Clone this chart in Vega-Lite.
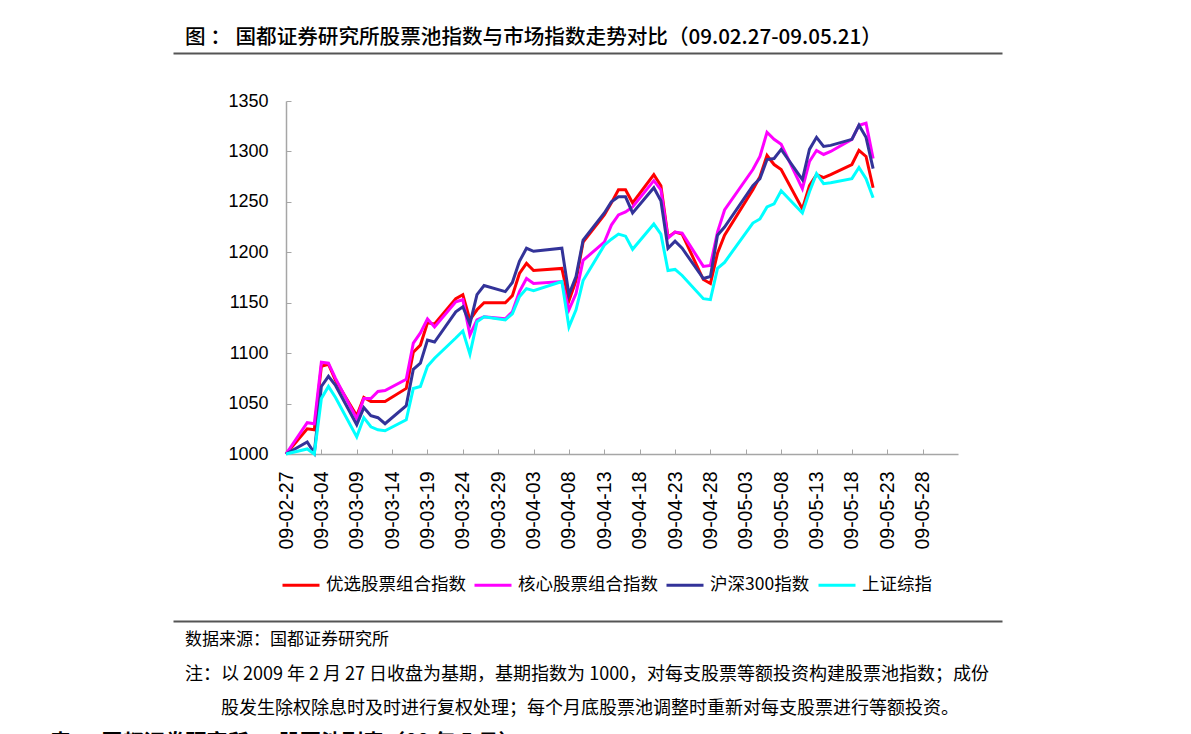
{
  "$schema": "https://vega.github.io/schema/vega-lite/v6.json",
  "autosize": {"type": "pad"},
  "padding": {"left": 50, "top": 28, "right": 0, "bottom": 0},
  "background": "white",
  "bounds": "flush",
  "spacing": 48,
  "config": {
    "view": {"stroke": null},
    "font": "Noto Sans CJK SC"
  },
  "title": {
    "text": "表 ： 国都证券研究所 ： 股票池列表（09 年 5 月）",
    "orient": "bottom",
    "anchor": "start",
    "frame": "group",
    "dx": -236,
    "offset": 14,
    "fontSize": 21,
    "fontWeight": "bold",
    "color": "#000000"
  },
  "vconcat": [
    {
      "width": 672,
      "height": 1,
      "title": {
        "text": "图 ：  国都证券研究所股票池指数与市场指数走势对比（09.02.27-09.05.21）",
        "anchor": "start",
        "frame": "group",
        "dx": -101,
        "offset": 1,
        "fontSize": 20.6,
        "fontWeight": 500,
        "color": "#000000"
      },
      "data": {"values": [{"v": 0}]},
      "mark": {"type": "point", "opacity": 0},
      "encoding": {
        "x": {
          "field": "v",
          "type": "quantitative",
          "scale": {"domain": [0, 1], "range": [-113, 716]},
          "axis": {"orient": "bottom", "domainColor": "#555555", "domainWidth": 2, "ticks": false, "labels": false, "grid": false, "title": null}
        }
      }
    },
    {
      "width": 672,
      "height": 353,
      "data": {
        "values": [
          {"date": "2009-02-27", "优选股票组合指数": 1000, "核心股票组合指数": 1000, "沪深300指数": 1000, "上证综指": 1000},
          {"date": "2009-03-02", "优选股票组合指数": 1025, "核心股票组合指数": 1031, "沪深300指数": 1012, "上证综指": 1005},
          {"date": "2009-03-03", "优选股票组合指数": 1024, "核心股票组合指数": 1030, "沪深300指数": 1001, "上证综指": 1000},
          {"date": "2009-03-04", "优选股票组合指数": 1087, "核心股票组合指数": 1091, "沪深300指数": 1067, "上证综指": 1055},
          {"date": "2009-03-05", "优选股票组合指数": 1089, "核心股票组合指数": 1090, "沪深300指数": 1077, "上证综指": 1067},
          {"date": "2009-03-06", "优选股票组合指数": 1073, "核心股票组合指数": 1075, "沪深300指数": 1068, "上证综指": 1056},
          {"date": "2009-03-09", "优选股票组合指数": 1038, "核心股票组合指数": 1035, "沪深300指数": 1029, "上证综指": 1017},
          {"date": "2009-03-10", "优选股票组合指数": 1056, "核心股票组合指数": 1055, "沪深300指数": 1046, "上证综指": 1036},
          {"date": "2009-03-11", "优选股票组合指数": 1052, "核心股票组合指数": 1055, "沪深300指数": 1038, "上证综指": 1027},
          {"date": "2009-03-12", "优选股票组合指数": 1052, "核心股票组合指数": 1062, "沪深300指数": 1036, "上证综指": 1024},
          {"date": "2009-03-13", "优选股票组合指数": 1052, "核心股票组合指数": 1063, "沪深300指数": 1030, "上证综指": 1023},
          {"date": "2009-03-16", "优选股票组合指数": 1065, "核心股票组合指数": 1074, "沪深300指数": 1048, "上证综指": 1034},
          {"date": "2009-03-17", "优选股票组合指数": 1101, "核心股票组合指数": 1110, "沪深300指数": 1084, "上证综指": 1065},
          {"date": "2009-03-18", "优选股票组合指数": 1108, "核心股票组合指数": 1120, "沪深300指数": 1090, "上证综指": 1067},
          {"date": "2009-03-19", "优选股票组合指数": 1130, "核心股票组合指数": 1134, "沪深300指数": 1113, "上证综指": 1087},
          {"date": "2009-03-20", "优选股票组合指数": 1129, "核心股票组合指数": 1126, "沪深300指数": 1111, "上证综指": 1095},
          {"date": "2009-03-23", "优选股票组合指数": 1154, "核心股票组合指数": 1151, "沪深300指数": 1141, "上证综指": 1115},
          {"date": "2009-03-24", "优选股票组合指数": 1158, "核心股票组合指数": 1153, "沪深300指数": 1146, "上证综指": 1122},
          {"date": "2009-03-25", "优选股票组合指数": 1133, "核心股票组合指数": 1118, "沪深300指数": 1129, "上证综指": 1099},
          {"date": "2009-03-26", "优选股票组合指数": 1143, "核心股票组合指数": 1133, "沪深300指数": 1158, "上证综指": 1131},
          {"date": "2009-03-27", "优选股票组合指数": 1150, "核心股票组合指数": 1136, "沪深300指数": 1167, "上证综指": 1136},
          {"date": "2009-03-30", "优选股票组合指数": 1150, "核心股票组合指数": 1134, "沪深300指数": 1161, "上证综指": 1133},
          {"date": "2009-03-31", "优选股票组合指数": 1157, "核心股票组合指数": 1141, "沪深300指数": 1170, "上证综指": 1139},
          {"date": "2009-04-01", "优选股票组合指数": 1179, "核心股票组合指数": 1161, "沪深300指数": 1191, "上证综指": 1156},
          {"date": "2009-04-02", "优选股票组合指数": 1189, "核心股票组合指数": 1174, "沪深300指数": 1204, "上证综指": 1164},
          {"date": "2009-04-03", "优选股票组合指数": 1182, "核心股票组合指数": 1169, "沪深300指数": 1201, "上证综指": 1162},
          {"date": "2009-04-07", "优选股票组合指数": 1184, "核心股票组合指数": 1171, "沪深300指数": 1204, "上证综指": 1171},
          {"date": "2009-04-08", "优选股票组合指数": 1152, "核心股票组合指数": 1143, "沪深300指数": 1158, "上证综指": 1126},
          {"date": "2009-04-09", "优选股票组合指数": 1172, "核心股票组合指数": 1159, "沪深300指数": 1176, "上证综指": 1143},
          {"date": "2009-04-10", "优选股票组合指数": 1210, "核心股票组合指数": 1192, "沪深300指数": 1212, "上证综指": 1172},
          {"date": "2009-04-13", "优选股票组合指数": 1237, "核心股票组合指数": 1210, "沪深300指数": 1239, "上证综指": 1207},
          {"date": "2009-04-14", "优选股票组合指数": 1249, "核心股票组合指数": 1227, "沪深300指数": 1250, "上证综指": 1213},
          {"date": "2009-04-15", "优选股票组合指数": 1262, "核心股票组合指数": 1237, "沪深300指数": 1255, "上证综指": 1218},
          {"date": "2009-04-16", "优选股票组合指数": 1262, "核心股票组合指数": 1240, "沪深300指数": 1255, "上证综指": 1216},
          {"date": "2009-04-17", "优选股票组合指数": 1249, "核心股票组合指数": 1245, "沪深300指数": 1239, "上证综指": 1203},
          {"date": "2009-04-20", "优选股票组合指数": 1277, "核心股票组合指数": 1271, "沪深300指数": 1264, "上证综指": 1228},
          {"date": "2009-04-21", "优选股票组合指数": 1266, "核心股票组合指数": 1262, "沪深300指数": 1251, "上证综指": 1218},
          {"date": "2009-04-22", "优选股票组合指数": 1215, "核心股票组合指数": 1214, "沪深300指数": 1204, "上证综指": 1182},
          {"date": "2009-04-23", "优选股票组合指数": 1220, "核心股票组合指数": 1220, "沪深300指数": 1211, "上证综指": 1183},
          {"date": "2009-04-24", "优选股票组合指数": 1218, "核心股票组合指数": 1219, "沪深300指数": 1204, "上证综指": 1177},
          {"date": "2009-04-27", "优选股票组合指数": 1173, "核心股票组合指数": 1186, "沪深300指数": 1174, "上证综指": 1154},
          {"date": "2009-04-28", "优选股票组合指数": 1169, "核心股票组合指数": 1187, "沪深300指数": 1176, "上证综指": 1153},
          {"date": "2009-04-29", "优选股票组合指数": 1199, "核心股票组合指数": 1220, "沪深300指数": 1217, "上证综指": 1184},
          {"date": "2009-04-30", "优选股票组合指数": 1217, "核心股票组合指数": 1242, "沪深300指数": 1225, "上证综指": 1190},
          {"date": "2009-05-04", "优选股票组合指数": 1262, "核心股票组合指数": 1282, "沪深300指数": 1266, "上证综指": 1229},
          {"date": "2009-05-05", "优选股票组合指数": 1275, "核心股票组合指数": 1295, "沪深300指数": 1273, "上证综指": 1233},
          {"date": "2009-05-06", "优选股票组合指数": 1296, "核心股票组合指数": 1319, "沪深300指数": 1292, "上证综指": 1245},
          {"date": "2009-05-07", "优选股票组合指数": 1287, "核心股票组合指数": 1312, "沪深300指数": 1293, "上证综指": 1248},
          {"date": "2009-05-08", "优选股票组合指数": 1282, "核心股票组合指数": 1307, "沪深300指数": 1302, "上证综指": 1261},
          {"date": "2009-05-11", "优选股票组合指数": 1243, "核心股票组合指数": 1263, "沪深300指数": 1272, "上证综指": 1239},
          {"date": "2009-05-12", "优选股票组合指数": 1266, "核心股票组合指数": 1290, "沪深300指数": 1302, "上证综指": 1260},
          {"date": "2009-05-13", "优选股票组合指数": 1277, "核心股票组合指数": 1301, "沪深300指数": 1314, "上证综指": 1278},
          {"date": "2009-05-14", "优选股票组合指数": 1274, "核心股票组合指数": 1297, "沪深300指数": 1305, "上证综指": 1268},
          {"date": "2009-05-15", "优选股票组合指数": 1277, "核心股票组合指数": 1300, "沪深300指数": 1306, "上证综指": 1269},
          {"date": "2009-05-18", "优选股票组合指数": 1287, "核心股票组合指数": 1312, "沪深300指数": 1312, "上证综指": 1273},
          {"date": "2009-05-19", "优选股票组合指数": 1301, "核心股票组合指数": 1326, "沪深300指数": 1326, "上证综指": 1284},
          {"date": "2009-05-20", "优选股票组合指数": 1295, "核心股票组合指数": 1328, "沪深300指数": 1314, "上证综指": 1273},
          {"date": "2009-05-21", "优选股票组合指数": 1264, "核心股票组合指数": 1293, "沪深300指数": 1283, "上证综指": 1254}
        ]
      },
      "transform": [
        {"fold": ["优选股票组合指数", "核心股票组合指数", "沪深300指数", "上证综指"], "as": ["series", "value"]}
      ],
      "mark": {"type": "line", "strokeWidth": 3},
      "encoding": {
        "x": {
          "field": "date",
          "type": "temporal",
          "scale": {
            "type": "utc",
            "domain": [
              {"year": 2009, "month": 2, "date": 27, "utc": true},
              {"year": 2009, "month": 6, "date": 2, "utc": true}
            ]
          },
          "axis": {
            "values": [
              {"year": 2009, "month": 2, "date": 27, "utc": true},
              {"year": 2009, "month": 3, "date": 4, "utc": true},
              {"year": 2009, "month": 3, "date": 9, "utc": true},
              {"year": 2009, "month": 3, "date": 14, "utc": true},
              {"year": 2009, "month": 3, "date": 19, "utc": true},
              {"year": 2009, "month": 3, "date": 24, "utc": true},
              {"year": 2009, "month": 3, "date": 29, "utc": true},
              {"year": 2009, "month": 4, "date": 3, "utc": true},
              {"year": 2009, "month": 4, "date": 8, "utc": true},
              {"year": 2009, "month": 4, "date": 13, "utc": true},
              {"year": 2009, "month": 4, "date": 18, "utc": true},
              {"year": 2009, "month": 4, "date": 23, "utc": true},
              {"year": 2009, "month": 4, "date": 28, "utc": true},
              {"year": 2009, "month": 5, "date": 3, "utc": true},
              {"year": 2009, "month": 5, "date": 8, "utc": true},
              {"year": 2009, "month": 5, "date": 13, "utc": true},
              {"year": 2009, "month": 5, "date": 18, "utc": true},
              {"year": 2009, "month": 5, "date": 23, "utc": true},
              {"year": 2009, "month": 5, "date": 28, "utc": true}
            ],
            "format": "%y-%m-%d",
            "labelAngle": 270,
            "labelFont": "Liberation Sans",
            "labelFontSize": 19.5,
            "labelColor": "#000000",
            "labelPadding": 22,
            "labelOverlap": false,
            "labelFlush": false,
            "labelBound": false,
            "tickSize": -5,
            "tickColor": "#A6A6A6",
            "domainColor": "#A6A6A6",
            "domainWidth": 1.5,
            "grid": false,
            "title": null
          }
        },
        "y": {
          "field": "value",
          "type": "quantitative",
          "scale": {"domain": [1000, 1350], "zero": false},
          "axis": {
            "values": [1000, 1050, 1100, 1150, 1200, 1250, 1300, 1350],
            "format": "d",
            "labelFont": "Liberation Sans",
            "labelFontSize": 18,
            "labelColor": "#000000",
            "labelPadding": 23,
            "labelFlush": false,
            "tickSize": -5,
            "tickColor": "#A6A6A6",
            "domainColor": "#A6A6A6",
            "domainWidth": 1.5,
            "grid": false,
            "title": null
          }
        },
        "color": {
          "field": "series",
          "type": "nominal",
          "scale": {
            "domain": ["优选股票组合指数", "核心股票组合指数", "沪深300指数", "上证综指"],
            "range": ["#FF0000", "#FF00FF", "#333399", "#00FFFF"]
          },
          "legend": {
            "orient": "none",
            "legendX": -5,
            "legendY": 513,
            "direction": "horizontal",
            "columns": 4,
            "title": null,
            "symbolType": "stroke",
            "symbolSize": 1369,
            "symbolStrokeWidth": 3,
            "labelFont": "Noto Sans CJK SC",
            "labelFontSize": 17.5,
            "labelColor": "#000000",
            "labelOffset": 5,
            "labelLimit": 300,
            "columnPadding": 2
          }
        }
      }
    },
    {
      "width": 672,
      "height": 119,
      "title": {
        "text": "数据来源：国都证券研究所",
        "subtitle": [
          "注：以 2009 年 2 月 27 日收盘为基期，基期指数为 1000，对每支股票等额投资构建股票池指数；成份",
          "\u200b\u3000\u3000股发生除权除息时及时进行复权处理；每个月底股票池调整时重新对每支股票进行等额投资。"
        ],
        "orient": "bottom",
        "anchor": "start",
        "frame": "group",
        "dx": -101,
        "offset": 11,
        "fontSize": 17,
        "fontWeight": "normal",
        "color": "#000000",
        "subtitleFontSize": 18,
        "subtitleColor": "#000000",
        "subtitlePadding": 17,
        "subtitleLineHeight": 34
      },
      "data": {"values": [{"v": 0}]},
      "mark": {"type": "point", "opacity": 0},
      "encoding": {
        "x": {
          "field": "v",
          "type": "quantitative",
          "scale": {"domain": [0, 1], "range": [-113, 716]},
          "axis": {"orient": "bottom", "domainColor": "#555555", "domainWidth": 2, "ticks": false, "labels": false, "grid": false, "title": null}
        }
      }
    }
  ]
}
